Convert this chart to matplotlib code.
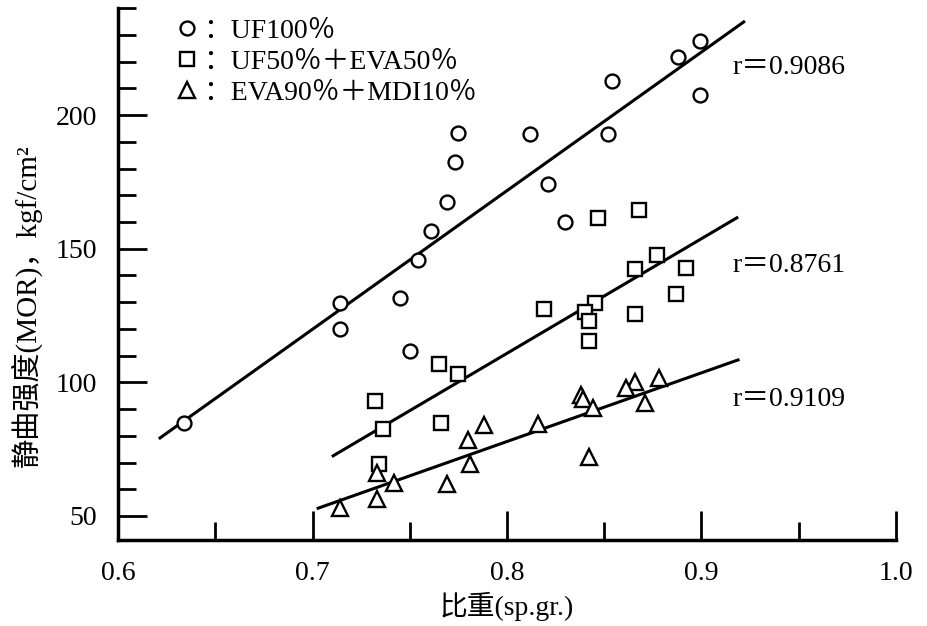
import numpy as np
import matplotlib
matplotlib.use("Agg")
import matplotlib.pyplot as plt
from matplotlib.ticker import MultipleLocator

plt.rcParams['font.family'] = ['Liberation Serif', 'Noto Sans CJK SC']

# UF100%
uf_x = [0.634, 0.714, 0.714, 0.745, 0.750, 0.754, 0.761, 0.769, 0.773, 0.775,
        0.812, 0.821, 0.830, 0.852, 0.854, 0.888, 0.899, 0.899]
uf_y = [84.9, 129.6, 120.0, 131.6, 111.9, 145.9, 156.5, 167.4, 182.4, 193.5,
        192.9, 174.2, 160.1, 193.1, 212.9, 221.9, 227.7, 207.5]

# UF50% + EVA50%
ue_x = [0.847, 0.868, 0.877, 0.866, 0.892, 0.887, 0.845, 0.840, 0.842, 0.866,
        0.842, 0.819, 0.765, 0.775, 0.732, 0.736, 0.766, 0.734]
ue_y = [161.6, 164.4, 147.8, 142.5, 142.9, 133.1, 129.6, 126.5, 123.1, 125.6,
        115.4, 127.5, 106.9, 103.1, 93.1, 82.7, 84.8, 69.4]

# EVA90% + MDI10%
em_x = [0.878, 0.866, 0.861, 0.871, 0.838, 0.839, 0.844, 0.816, 0.842, 0.788,
        0.780, 0.781, 0.769, 0.742, 0.733, 0.733, 0.714]
em_y = [101.6, 100.0, 97.9, 92.1, 95.4, 93.8, 90.4, 84.6, 72.2, 84.1,
        78.5, 69.4, 61.9, 62.3, 66.2, 56.3, 52.9]

# regression lines (end points)
uf_fit_x = [0.6216, 0.9217]
uf_fit_y = [79.2, 234.9]
ue_fit_x = [0.7106, 0.9182]
ue_fit_y = [72.5, 161.6]
em_fit_x = [0.7029, 0.9188]
em_fit_y = [52.9, 108.4]

r_labels = ["r＝0.9086", "r＝0.8761", "r＝0.9109"]
r_y = [218, 143.7, 93.5]

fig = plt.figure(figsize=(9.28, 6.26), dpi=100)
ax = fig.add_axes([0.1272, 0.1374, 0.8383, 0.8493])

ax.plot(uf_fit_x, uf_fit_y, color='black', lw=2.2, zorder=2)
ax.plot(ue_fit_x, ue_fit_y, color='black', lw=2.2, zorder=2)
ax.plot(em_fit_x, em_fit_y, color='black', lw=2.2, zorder=2)

mk = dict(linestyle='none', mfc='white', mec='black', mew=1.7, zorder=3)
h1, = ax.plot(uf_x, uf_y, marker='o', ms=10, label='：UF100％', **mk)
h2, = ax.plot(ue_x, ue_y, marker='s', ms=10, label='：UF50％＋EVA50％', **mk)
h3, = ax.plot(em_x, em_y, marker='^', ms=11, label='：EVA90％＋MDI10％', **mk)

for lab, yy in zip(r_labels, r_y):
    ax.text(0.916, yy, lab, fontsize=20, ha='left', va='center')

ax.legend(handles=[h1, h2, h3], loc='upper left', bbox_to_anchor=(0.072, 0.981),
          frameon=False, fontsize=20, handlelength=0.95, handletextpad=0.1,
          labelspacing=0.2, borderpad=0, borderaxespad=0)

ax.set_xlim(0.6, 1.0)
ax.set_ylim(41, 240)
ax.xaxis.set_minor_locator(MultipleLocator(0.05))
ax.yaxis.set_minor_locator(MultipleLocator(10))
ax.set_xticks([0.6, 0.7, 0.8, 0.9, 1.0])
ax.set_xticklabels(['0.6', '0.7', '0.8', '0.9', '1.0'])
ax.set_yticks([50, 100, 150, 200])

for s in ['top', 'right']:
    ax.spines[s].set_visible(False)
for s in ['left', 'bottom']:
    ax.spines[s].set_linewidth(2.5)

ax.tick_params(which='major', direction='in', length=21, width=2, labelsize=20, pad=15)
ax.tick_params(which='minor', direction='in', length=13, width=2)

ax.set_xlabel('比重(sp.gr.)', fontsize=20, labelpad=4)
ax.set_ylabel('静曲强度(MOR)，kgf/cm²', fontsize=21)
ax.yaxis.set_label_coords(-0.098, 0.44)

fig.savefig('out.png', dpi=100)
